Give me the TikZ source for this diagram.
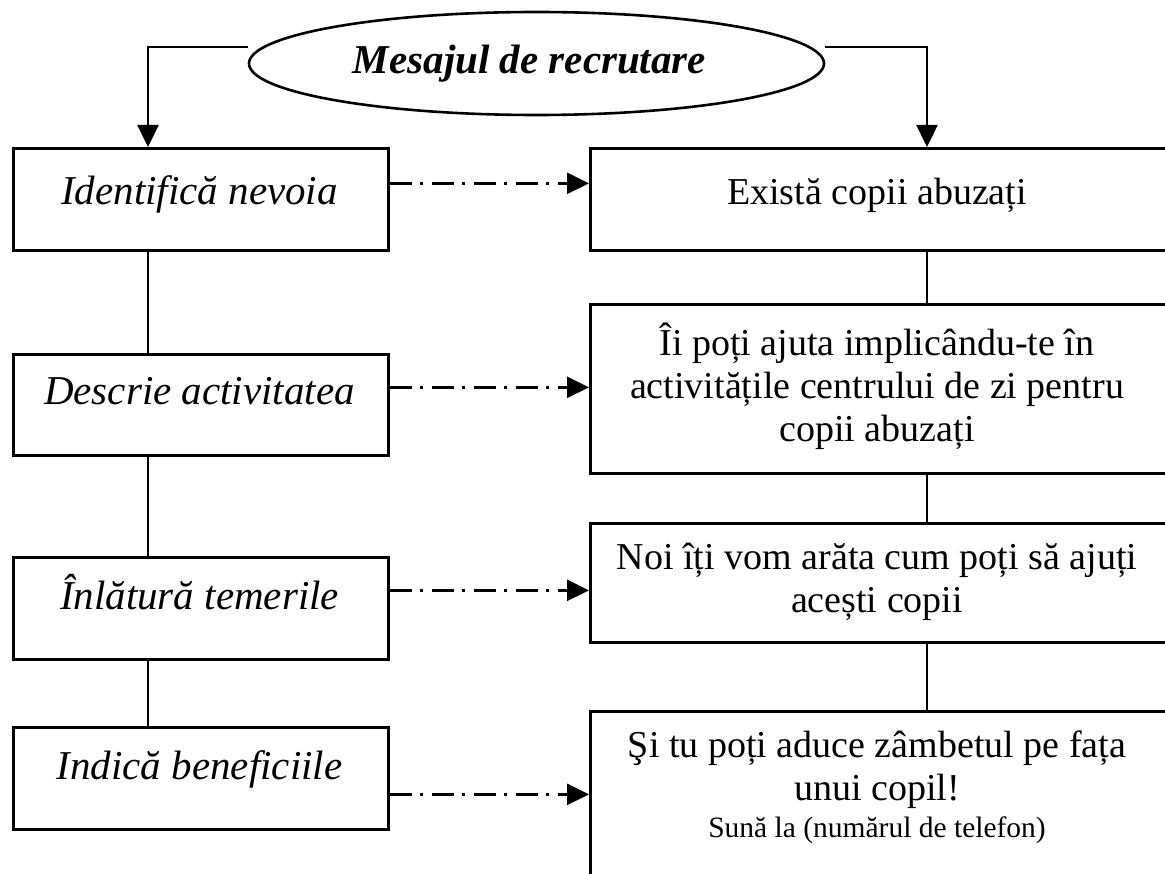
\documentclass[tikz,border=0pt]{standalone}
\usepackage{fontspec}
\setmainfont{Liberation Serif}
\usetikzlibrary{shapes.geometric,arrows.meta,calc}
\begin{document}
\begin{tikzpicture}[x=1pt,y=-1pt,
  box/.style={draw,line width=2.7pt,rectangle,inner sep=0pt,anchor=north west},
  conn/.style={line width=2.4pt},
  arr/.style={line width=2.4pt,-{Triangle[length=22pt,width=21pt]}},
  dd/.style={line width=2.6pt,dash pattern=on 22pt off 8.5pt on 3pt off 8.5pt,-{Triangle[length=22pt,width=21pt]}},
  ltext/.style={font=\fontsize{41}{46}\selectfont\itshape,inner sep=0pt,anchor=base},
  rtext/.style={font=\fontsize{38}{43}\selectfont,align=center,inner sep=0pt},
]
\useasboundingbox (0,0) rectangle (1165,874);
\clip (0,0) rectangle (1165,874);
\fill[white] (0,0) rectangle (1165,874);

% ellipse
\node[draw,ellipse,line width=2.6pt,minimum width=575pt,minimum height=103pt,inner sep=0pt,
  font=\fontsize{41}{46}\selectfont\bfseries\itshape] (ell) at (536.5,63.5) {\kern-14pt Mesajul de recrutare};

% left boxes
\node[box,minimum width=375pt,minimum height=102pt] (l1) at (12,147) {};
\node[box,minimum width=375pt,minimum height=101pt] (l2) at (12,353) {};
\node[box,minimum width=375pt,minimum height=102pt] (l3) at (12,556) {};
\node[box,minimum width=375pt,minimum height=102pt] (l4) at (12,726) {};

% right boxes
\node[box,minimum width=579pt,minimum height=102pt] (r1) at (589,147) {};
\node[box,minimum width=579pt,minimum height=169pt] (r2) at (589,303) {};
\node[box,minimum width=579pt,minimum height=119pt] (r3) at (589,522) {};
\node[box,minimum width=579pt,minimum height=200pt] (r4) at (589,710) {};

% left texts
\node[ltext] (t1) at (199.5,205) {Identifică nevoia};
\node[ltext] (t2) at (199.5,405) {Descrie activitatea};
\node[ltext] (t3) at (199.5,609) {Înlătură temerile};
\node[ltext] (t4) at (199.5,779) {Indică beneficiile};

% right texts
\node[font=\fontsize{38}{43}\selectfont,inner sep=0pt,anchor=base] (s1) at (877,205) {Există copii abuzați};
\node[rtext] (s2) at (877,386) {Îi poți ajuta implicându-te în\\activitățile centrului de zi pentru\\copii abuzați};
\node[rtext] (s3) at (877,582) {Noi îți vom arăta cum poți să ajuți\\acești copii};
\node[rtext,anchor=north] (s4) at (877,731) {Şi tu poți aduce zâmbetul pe fața\\unui copil!\\[-6pt]{\fontsize{29.5}{34}\selectfont Sună la (numărul de telefon)}};

% connector columns
\coordinate (lx) at (148,0);
\coordinate (rx) at (927,0);

% arrows from ellipse
\draw[arr] ([yshift=16.5pt]ell.west) -| (l1.north -| lx);
\draw[arr] ([yshift=16.5pt]ell.east) -| (r1.north -| rx);

% vertical connectors
\draw[conn] (l1.south -| lx) -- (l2.north -| lx);
\draw[conn] (l2.south -| lx) -- (l3.north -| lx);
\draw[conn] (l3.south -| lx) -- (l4.north -| lx);
\draw[conn] (r1.south -| rx) -- (r2.north -| rx);
\draw[conn] (r2.south -| rx) -- (r3.north -| rx);
\draw[conn] (r3.south -| rx) -- (r4.north -| rx);

% dash-dot arrows
\path ([yshift=16pt]l1.east) coordinate (a1);
\path ([yshift=17.5pt]l2.east) coordinate (a2);
\path ([yshift=18pt]l3.east) coordinate (a3);
\path ([yshift=-16pt]l4.east) coordinate (a4);
\draw[dd] (a1) -- (a1 -| r1.west);
\draw[dd] (a2) -- (a2 -| r2.west);
\draw[dd] (a3) -- (a3 -| r3.west);
\draw[dd] (a4) -- (a4 -| r4.west);
\end{tikzpicture}
\end{document}
